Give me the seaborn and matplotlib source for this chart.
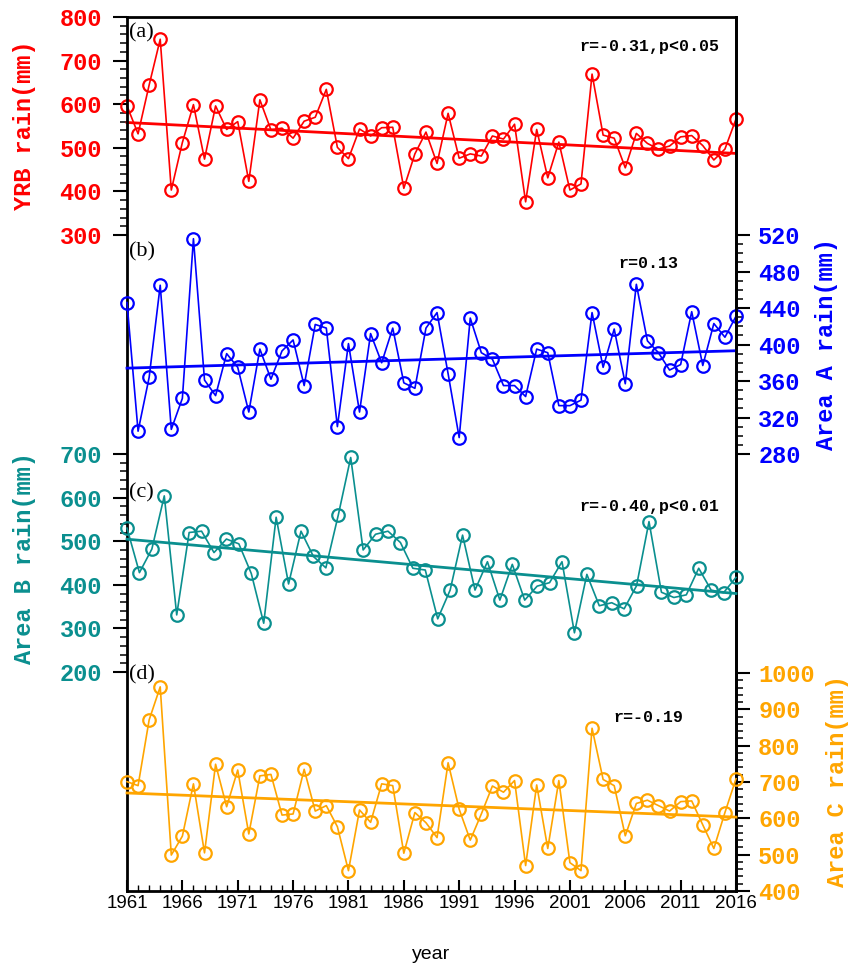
import numpy as np
import matplotlib
matplotlib.use("Agg")
import matplotlib.pyplot as plt
import seaborn as sns

# ---------------- data ----------------
years = list(range(1961, 2017))

yrb_rain = [596, 532, 644, 749, 403, 512, 599, 474, 596, 542,
            560, 423, 610, 541, 545, 522, 561, 570, 634, 501,
            475, 543, 527, 546, 547, 407, 486, 536, 464, 579,
            476, 486, 481, 527, 520, 554, 376, 542, 431, 513,
            403, 417, 669, 529, 522, 454, 533, 510, 497, 504,
            525, 528, 505, 472, 497, 566]

area_a_rain = [446, 305, 364, 465, 307, 341, 516, 361, 344, 390,
               375, 326, 395, 362, 393, 405, 355, 422, 418, 310,
               401, 326, 412, 380, 418, 358, 352, 418, 435, 368,
               298, 429, 391, 384, 355, 355, 343, 395, 391, 333,
               333, 339, 435, 375, 417, 357, 466, 404, 391, 372,
               378, 436, 377, 423, 408, 431]

# Area B series has 50 points spread across the same frame width
area_b_rain = [530, 428, 482, 604, 331, 520, 523, 474, 505, 494,
               426, 312, 555, 402, 523, 465, 439, 560, 692, 480,
               516, 523, 497, 438, 434, 322, 388, 514, 388, 453,
               365, 447, 365, 397, 405, 453, 290, 424, 352, 359,
               345, 398, 545, 383, 371, 377, 438, 388, 382, 417]
area_b_pos = np.arange(len(area_b_rain))

area_c_rain = [701, 690, 871, 962, 499, 551, 695, 505, 749, 632,
               733, 557, 717, 721, 609, 612, 735, 620, 635, 577,
               456, 623, 589, 695, 690, 504, 616, 588, 547, 753,
               625, 540, 612, 689, 672, 704, 470, 692, 517, 704,
               478, 456, 848, 707, 690, 552, 641, 650, 635, 620,
               646, 648, 582, 517, 616, 709]

x_ticks = list(range(1961, 2017, 5))
panel_labels = ["(a)", "(b)", "(c)", "(d)"]
stat_texts = ["r=-0.31,p<0.05", "r=0.13", "r=-0.40,p<0.01", "r=-0.19"]
y_labels = ["YRB rain(mm)", "Area A rain(mm)", "Area B rain(mm)", "Area C rain(mm)"]

RED, BLUE, TEAL, ORANGE = "#FF0000", "#0000FF", "#0A8F8F", "#FFA500"

# ---------------- figure ----------------
fig = plt.figure(figsize=(8.62, 9.69), dpi=100)
L, B, W, H = 127 / 862, 1 - 891 / 969, 609 / 862, 874 / 969
ax0 = fig.add_axes([L, B, W, H])
ax1 = ax0.twinx()
ax2 = fig.add_axes([L, B, W, H], frameon=False, label="c")
ax3 = fig.add_axes([L, B, W, H], frameon=False, label="d", sharex=ax0)


def draw(ax, x, y, color):
    sns.lineplot(x=x, y=y, ax=ax, color=color, marker="o", markersize=9,
                 markerfacecolor="none", markeredgecolor=color,
                 markeredgewidth=1.6, linewidth=1.2, clip_on=False,
                 estimator=None, sort=False)
    sns.regplot(x=x, y=y, ax=ax, scatter=False, ci=None, color=color,
                truncate=True, line_kws=dict(linewidth=2.0, clip_on=False))


draw(ax0, np.array(years), np.array(yrb_rain), RED)
draw(ax1, np.array(years), np.array(area_a_rain), BLUE)
draw(ax2, area_b_pos, np.array(area_b_rain), TEAL)
draw(ax3, np.array(years), np.array(area_c_rain), ORANGE)

# limits so that each series occupies its own band of the frame
ax0.set_xlim(1961, 2016)
ax0.set_ylim(-1205, 800)
ax1.set_ylim(-199, 759)
ax2.set_xlim(0, len(area_b_rain) - 1)
ax2.set_ylim(-302, 1702)
ax3.set_ylim(400, 2806)

ax2.xaxis.set_visible(False)
ax3.xaxis.set_visible(False)
ax2.yaxis.tick_left()
ax3.yaxis.tick_right()
ax3.yaxis.set_label_position("right")

ax0.set_yticks(range(300, 801, 100))
ax0.set_yticks(range(300, 801, 20), minor=True)
ax1.set_yticks(range(280, 521, 40))
ax1.set_yticks(range(280, 521, 10), minor=True)
ax2.set_yticks(range(200, 701, 100))
ax2.set_yticks(range(200, 701, 20), minor=True)
ax3.set_yticks(range(400, 1001, 100))
ax3.set_yticks(range(400, 1001, 20), minor=True)

specs = [(ax0, RED, 8), (ax1, BLUE, 6), (ax2, TEAL, 8), (ax3, ORANGE, 6)]
for ax, col, pad in specs:
    ax.tick_params(axis="y", which="major", direction="out", length=10,
                   width=1.5, color="black", labelsize=17, labelcolor=col, pad=pad)
    ax.tick_params(axis="y", which="minor", direction="out", length=5,
                   width=1.1, color="black")
    for lab in ax.get_yticklabels():
        lab.set_fontfamily("Liberation Mono")
        lab.set_fontweight("bold")

# x axis
ax0.set_xticks(x_ticks)
ax0.set_xticks(years, minor=True)
ax0.tick_params(axis="x", which="major", direction="in", length=8, width=1.5,
                labelsize=13.5, pad=3)
ax0.tick_params(axis="x", which="minor", direction="in", length=4, width=1.0)
for lab in ax0.get_xticklabels():
    lab.set_fontfamily("Liberation Sans")
ax0.set_xlabel("year", fontsize=14, family="Liberation Sans", va="center")
ax0.xaxis.set_label_coords(0.5, -0.073)

# spines
for s in ax0.spines.values():
    s.set_linewidth(2)
    s.set_color("black")
for name, s in ax1.spines.items():
    s.set_visible(name == "right")
    s.set_linewidth(2)

# y labels
label_pos = [(ax0, RED, -0.1675, 0.876), (ax1, BLUE, 1.149, 0.626),
             (ax2, TEAL, -0.1675, 0.381), (ax3, ORANGE, 1.167, 0.126)]
for (ax, col, lx, ly), txt in zip(label_pos, y_labels):
    ax.set_ylabel(txt, color=col, fontsize=17, fontweight="bold",
                  family="Liberation Mono", rotation=90, va="center", ha="center")
    ax.yaxis.set_label_coords(lx, ly)

# panel labels
for txt, yy in zip(panel_labels, [0.9817, 0.7311, 0.4554, 0.2471]):
    ax0.text(0.004, yy, txt, transform=ax0.transAxes, ha="left", va="center",
             family="Liberation Serif", fontsize=16)

# statistics text
stat_pos = [(0.972, 0.9657, "right"), (0.8555, 0.7185, "center"),
            (0.972, 0.4394, "right"), (0.8555, 0.199, "center")]
for (sx, sy, ha), txt in zip(stat_pos, stat_texts):
    ax0.text(sx, sy, txt, transform=ax0.transAxes, ha=ha, va="center",
             family="Liberation Mono", fontweight="bold", fontsize=12)

fig.savefig("out.png", dpi=100)
